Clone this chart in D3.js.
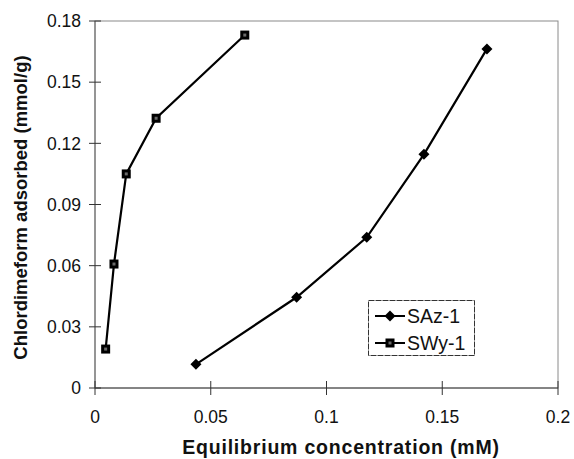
<!DOCTYPE html>
<html>
<head>
<meta charset="utf-8">
<script src="https://cdn.jsdelivr.net/npm/d3@7"></script>
<style>
html,body{margin:0;padding:0;background:#fff;}
svg{display:block;font-family:"Liberation Sans",Arial,sans-serif;}
</style>
</head>
<body>
<svg id="chart" width="574" height="459"></svg>
<script>
const sazX = [0.0436, 0.0871, 0.1174, 0.1421, 0.1693];
const sazY = [0.0116, 0.0445, 0.0739, 0.1146, 0.1663];
const swyX = [0.0046, 0.0082, 0.0135, 0.0264, 0.0647];
const swyY = [0.0191, 0.0608, 0.1050, 0.1323, 0.1731];
const xTicks = [0, 0.05, 0.1, 0.15, 0.2];
const xTickLabels = ["0", "0.05", "0.1", "0.15", "0.2"];
const yTicks = [0, 0.03, 0.06, 0.09, 0.12, 0.15, 0.18];
const yTickLabels = ["0", "0.03", "0.06", "0.09", "0.12", "0.15", "0.18"];
const seriesNames = ["SAz-1", "SWy-1"];
const xTitle = "Equilibrium concentration (mM)";
const yTitle = "Chlordimeform adsorbed (mmol/g)";

const svg = d3.select("#chart");
const L = 95, R = 558, T = 21, B = 388;
const x = d3.scaleLinear().domain([0, 0.2]).range([L, R]);
const y = d3.scaleLinear().domain([0, 0.18]).range([B, T]);

// frame
svg.append("rect").attr("x", L).attr("y", T).attr("width", R - L).attr("height", B - T)
  .attr("fill", "none").attr("stroke", "#8a8a8a").attr("stroke-width", 1);
svg.append("line").attr("x1", L).attr("x2", R).attr("y1", B).attr("y2", B).attr("stroke", "#444");
svg.append("line").attr("x1", L).attr("x2", L).attr("y1", T).attr("y2", B).attr("stroke", "#666");

// y axis ticks
const yg = svg.append("g");
yTicks.forEach((t, i) => {
  yg.append("line").attr("x1", L - 6).attr("x2", L + 6).attr("y1", y(t)).attr("y2", y(t))
    .attr("stroke", "#333").attr("stroke-width", 1);
  yg.append("text").attr("x", 81).attr("y", y(t)).attr("dy", "0.36em")
    .attr("text-anchor", "end").attr("font-size", 17.5).attr("fill", "#111").text(yTickLabels[i]);
});
// x axis ticks
const xg = svg.append("g");
xTicks.forEach((t, i) => {
  xg.append("line").attr("x1", x(t)).attr("x2", x(t)).attr("y1", B - 7).attr("y2", B + 7)
    .attr("stroke", "#333").attr("stroke-width", 1);
  xg.append("text").attr("x", x(t)).attr("y", 423)
    .attr("text-anchor", "middle").attr("font-size", 17.5).attr("fill", "#111").text(xTickLabels[i]);
});

// titles
svg.append("text").attr("x", 341).attr("y", 454).attr("text-anchor", "middle")
  .attr("font-size", 19.5).attr("letter-spacing", "0.8px").attr("font-weight", "bold")
  .attr("fill", "#111").text(xTitle);
svg.append("text").attr("transform", "translate(27," + ((T + B) / 2 + 3) + ") rotate(-90)")
  .attr("text-anchor", "middle").attr("font-size", 18.5).attr("font-weight", "bold")
  .attr("fill", "#111").text(yTitle);

const line = d3.line().x(d => x(d[0])).y(d => y(d[1]));
const saz = sazX.map((v, i) => [v, sazY[i]]);
const swy = swyX.map((v, i) => [v, swyY[i]]);

svg.append("path").datum(saz).attr("d", line).attr("fill", "none")
  .attr("stroke", "#000").attr("stroke-width", 2.2);
svg.append("path").datum(swy).attr("d", line).attr("fill", "none")
  .attr("stroke", "#000").attr("stroke-width", 2.2);

function diamond(g, cx, cy) {
  g.append("path").attr("d", `M${cx},${cy - 5.5}L${cx + 5.5},${cy}L${cx},${cy + 5.5}L${cx - 5.5},${cy}Z`)
    .attr("fill", "#000");
}
function square(g, cx, cy) {
  g.append("rect").attr("x", cx - 4.5).attr("y", cy - 4.5).attr("width", 9).attr("height", 9)
    .attr("fill", "#000");
  g.append("rect").attr("x", cx - 1.5).attr("y", cy - 1.5).attr("width", 3).attr("height", 3)
    .attr("fill", "#6a6a6a");
}
const mg = svg.append("g");
saz.forEach(d => diamond(mg, x(d[0]), y(d[1])));
swy.forEach(d => square(mg, x(d[0]), y(d[1])));

// legend
const lg = svg.append("g");
lg.append("rect").attr("x", 368.5).attr("y", 300.5).attr("width", 106).attr("height", 55)
  .attr("fill", "#fff").attr("stroke", "#333").attr("stroke-width", 1).attr("stroke-dasharray", "6,1");
[316, 343].forEach((cy, i) => {
  lg.append("line").attr("x1", 375).attr("x2", 405).attr("y1", cy).attr("y2", cy)
    .attr("stroke", "#000").attr("stroke-width", 2);
  if (i === 0) diamond(lg, 390, cy); else square(lg, 390, cy);
  lg.append("text").attr("x", 407).attr("y", cy).attr("dy", "0.36em")
    .attr("font-size", 19.5).attr("fill", "#111").text(seriesNames[i]);
});
</script>
</body>
</html>
